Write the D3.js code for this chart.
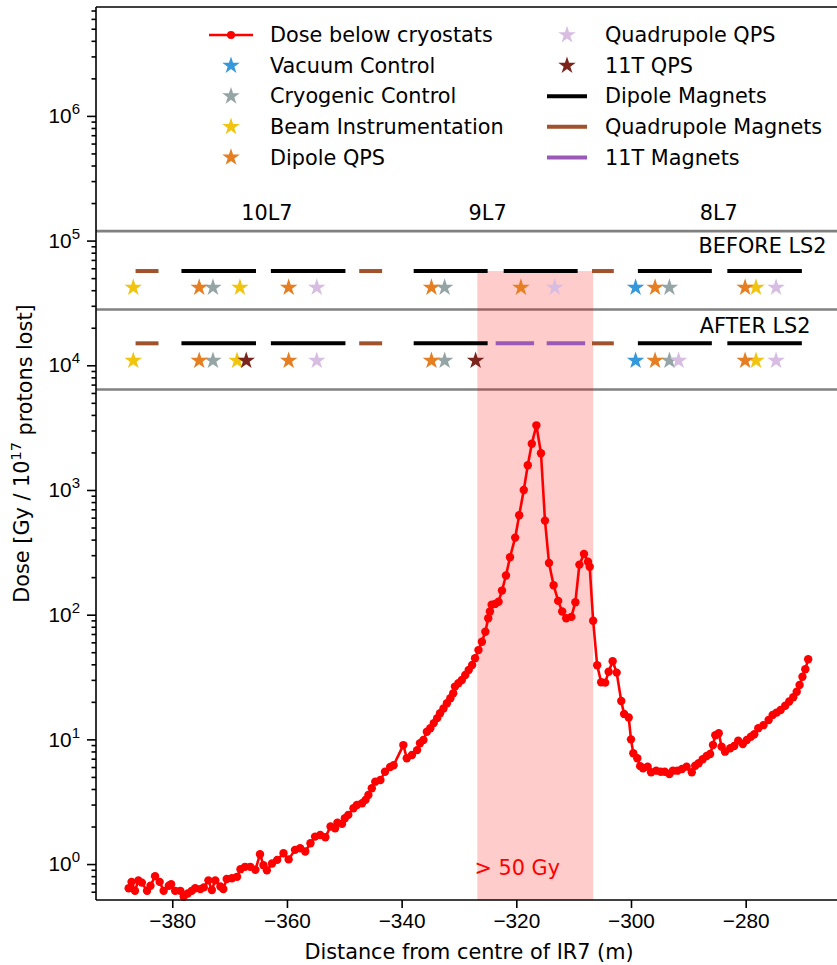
<!DOCTYPE html>
<html>
<head>
<meta charset="utf-8">
<script src="https://cdn.jsdelivr.net/npm/d3@7"></script>
<style>
  body { margin: 0; background: #fff; }
  svg { font-family: "DejaVu Sans", sans-serif; }
  .axis path, .axis line { stroke: #000; stroke-width: 1.6; }
  .axis text { font-size: 20.8px; fill: #000; }
</style>
</head>
<body>
<svg id="chart" width="837" height="965"></svg>
<script>
// dose measured below the cryostats
const doseX = [
  -387.6,-387.1,-386.5,-385.9,-385.3,-384.4,-383.8,-383.0,-382.2,-381.5,-380.6,-380.2,-379.5,-378.6,-378.0,-377.3,-376.6,-376.0,-375.1,-374.5,-373.7,-373.1,-372.5,-371.6,-371.1,-370.5,-369.6,-368.7,-368.1,-367.3,-366.4,-365.5,-364.7,-364.1,-363.5,-362.6,-361.7,-360.6,-359.7,-358.6,-357.7,-356.8,
  -355.9,-355.1,-354.2,-353.3,-352.4,-351.6,-351.2,-350.4,-349.9,-349.3,-348.4,-347.8,-346.9,-346.3,-345.8,-345.2,-344.6,-343.7,
  -342.9,-342.0,-341.4,-339.7,-339.1,-338.2,-337.3,-336.8,-336.2,-335.6,-335.0,-334.4,-333.8,-333.3,-332.7,-332.1,-331.5,-331.0,-330.7,-330.1,-329.5,-328.9,-328.3,-327.7,-327.2,-326.6,-326.0,-325.4,-324.9,-324.6,
  -324.3,-323.7,-323.1,-322.5,-321.8,-321.1,-320.2,-319.5,-318.7,-318.0,-317.3,-316.5,-315.7,-315.0,-314.3,-313.5,-312.7,-312.0,-311.3,-310.4,-309.7,-309.0,-308.2,-307.5,-307.2,-306.6,-305.9,-305.2,-304.5,-303.9,-303.2,-302.5,-301.7,
  -301.2,-300.4,-300.0,-299.6,-298.9,-298.4,-297.9,-297.1,-296.5,-295.6,-294.8,-294.1,-293.3,-292.7,-291.9,-291.1,-290.3,-289.4,-288.8,-288.2,-287.5,-286.8,-286.2,-285.7,-285.3,-284.7,-284.2,-283.6,-282.7,-282.0,-281.3,-280.5,-279.8,-279.1,-278.5,-277.8,-276.9,-276.0,-275.3,-274.6,-273.9,-273.1,-272.4,-271.7,-271.1,-270.6,-270.1,-269.6,-269.1
];
const doseY = [
  0.64,0.72,0.61,0.74,0.71,0.61,0.67,0.80,0.72,0.61,0.67,0.69,0.61,0.61,0.55,0.58,0.61,0.64,0.63,0.65,0.74,0.62,0.74,0.66,0.63,0.76,0.77,0.79,0.91,0.95,0.95,0.90,1.2,0.98,0.89,1.01,1.08,1.22,1.09,1.30,1.34,1.26,
  1.47,1.66,1.71,1.64,2.0,1.94,2.15,2.1,2.33,2.48,2.8,2.98,3.07,3.27,3.58,4.05,4.58,4.72,
  5.5,6.0,6.2,9.0,7.05,7.5,8.2,9.3,9.9,11.5,12.3,13.5,14.8,16.2,17.7,19.5,21.4,23.4,26.5,28.2,29.9,32.8,36,39.5,44.7,52,60.7,73,93.5,106,
  120,122,127,156,206,289,415,627,1000,1580,2350,3300,1970,568,260,172,129,106,93.5,96,126,252,307,266,242,89.5,39.3,28.7,28.5,34.9,42.3,34.3,20.3,
  16.0,15.0,10.0,7.74,7.05,6.1,5.86,6.04,5.45,5.61,5.5,5.5,5.28,5.61,5.61,5.79,6.04,5.45,6.15,6.43,6.92,7.36,7.64,9.02,10.8,11.2,8.74,7.97,8.48,8.85,9.77,9.19,9.89,10.5,11.0,12.3,13.0,14.3,15.7,16.4,17.2,18.6,20.1,21.8,24.1,27.3,31.8,36.5,43.9
];

// magnet layout [type, start, end]
const magnetsBefore = [
  ["quad",-386.4,-382.4],["dipole",-378.4,-365.4],["dipole",-362.8,-349.8],["quad",-347.4,-343.4],
  ["dipole",-337.9,-325.0],["dipole",-322.2,-309.3],["quad",-306.8,-303.0],["dipole",-298.8,-285.9],["dipole",-283.2,-270.2]
];
const magnetsAfter = [
  ["quad",-386.4,-382.4],["dipole",-378.4,-365.4],["dipole",-362.8,-349.8],["quad",-347.4,-343.4],
  ["dipole",-337.9,-325.0],["t11",-323.6,-316.9],["t11",-314.7,-308.0],["quad",-306.8,-303.0],["dipole",-298.8,-285.9],["dipole",-283.2,-270.2]
];

// electronics racks [type, position]
const racksBefore = [
  ["beam",-386.8],["dqps",-375.3],["cryo",-372.9],["beam",-368.2],["dqps",-359.7],["qqps",-354.8],
  ["dqps",-334.8],["cryo",-332.5],["dqps",-319.2],["qqps",-313.3],["vac",-299.2],["dqps",-295.8],
  ["cryo",-293.3],["dqps",-280.1],["beam",-278.2],["qqps",-274.7]
];
const racksAfter = [
  ["beam",-386.8],["dqps",-375.3],["cryo",-372.9],["beam",-368.7],["q11",-367.1],["dqps",-359.7],["qqps",-354.8],
  ["dqps",-334.8],["cryo",-332.5],["q11",-327.1],["vac",-299.2],["dqps",-295.8],["cryo",-293.3],["qqps",-291.7],
  ["dqps",-280.1],["beam",-278.2],["qqps",-274.7]
];

const cellLabels = ["10L7","9L7","8L7"];
const cellPos = [-363.5,-325.0,-284.7];
const separators = [1.19e5, 2.8e4, 6.4e3];
const rowLevels = {beforeLine: 5.7e4, beforeStar: 4.2e4, afterLine: 1.5e4, afterStar: 1.09e4};
const band = [-326.8, -306.6];
const xTicks = [-380,-360,-340,-320,-300,-280];
const yTicks = [1,10,100,1e3,1e4,1e5,1e6];

const rackTypes = ["vac","cryo","beam","dqps","qqps","q11"];
const rackNames = {vac:"Vacuum Control",cryo:"Cryogenic Control",beam:"Beam Instrumentation",dqps:"Dipole QPS",qqps:"Quadrupole QPS",q11:"11T QPS"};
const rackColors = {vac:"#3498db",cryo:"#95a5a6",beam:"#f1c40f",dqps:"#e67e22",qqps:"#d7bde2",q11:"#7b241c"};
const magnetNames = {dipole:"Dipole Magnets",quad:"Quadrupole Magnets",t11:"11T Magnets"};
const magnetColors = {dipole:"#000000",quad:"#a0522d",t11:"#9b59b6"};

const svg = d3.select("#chart");
const pLeft = 96, pRight = 838, pTop = 7, pBottom = 900;

const x = d3.scaleLinear().domain([-393.3, -263.9]).range([pLeft, pRight]);
const y = d3.scaleLog().domain([0.515, 7.47e6]).range([pBottom, pTop]);

// separators
svg.append("g").selectAll("line").data(separators).join("line")
  .attr("x1", pLeft).attr("x2", 837)
  .attr("y1", d => y(d)).attr("y2", d => y(d))
  .attr("stroke", "#808080").attr("stroke-width", 2.6);

// > 50 Gy band
svg.append("rect")
  .attr("x", x(band[0])).attr("width", x(band[1]) - x(band[0]))
  .attr("y", y(rowLevels.beforeLine)).attr("height", pBottom - y(rowLevels.beforeLine))
  .attr("fill", "#ff0000").attr("fill-opacity", 0.2);

svg.append("text")
  .attr("x", x(-327.3)).attr("y", y(0.93))
  .attr("dy", "0.35em").attr("text-anchor", "start")
  .attr("font-size", 20.8).attr("fill", "#ff0000").text("> 50 Gy");

// magnets
function AddMagnets(list, level) {
  svg.append("g").selectAll("line").data(list).join("line")
    .attr("x1", d => x(d[1])).attr("x2", d => x(d[2]))
    .attr("y1", y(level)).attr("y2", y(level))
    .attr("stroke", d => magnetColors[d[0]]).attr("stroke-width", 4);
}
AddMagnets(magnetsBefore, rowLevels.beforeLine);
AddMagnets(magnetsAfter, rowLevels.afterLine);

// racks
const star = d3.symbol().type(d3.symbolStar).size(95);
function AddRacks(list, level) {
  const sorted = list.slice().sort((a, b) => rackTypes.indexOf(a[0]) - rackTypes.indexOf(b[0]));
  svg.append("g").selectAll("path").data(sorted).join("path")
    .attr("d", star)
    .attr("transform", d => `translate(${x(d[1])},${y(level)})`)
    .attr("fill", d => rackColors[d[0]]);
}
AddRacks(racksBefore, rowLevels.beforeStar);
AddRacks(racksAfter, rowLevels.afterStar);

// text labels
svg.append("g").selectAll("text").data(cellLabels).join("text")
  .attr("x", (d, i) => x(cellPos[i])).attr("y", y(1.67e5))
  .attr("dy", "0.35em").attr("text-anchor", "middle").attr("font-size", 20.8)
  .text(d => d);
svg.append("text").attr("x", x(-265.9)).attr("y", y(9.06e4)).attr("dy", "0.35em")
  .attr("text-anchor", "end").attr("font-size", 20.8).text("BEFORE LS2");
svg.append("text").attr("x", x(-268.7)).attr("y", y(2.07e4)).attr("dy", "0.35em")
  .attr("text-anchor", "end").attr("font-size", 20.8).text("AFTER LS2");

// dose curve
const I = d3.range(doseX.length);
const line = d3.line().x(i => x(doseX[i])).y(i => y(doseY[i]));
svg.append("path").attr("d", line(I))
  .attr("fill", "none").attr("stroke", "#ff0000").attr("stroke-width", 2.6);
svg.append("g").selectAll("circle").data(I).join("circle")
  .attr("cx", i => x(doseX[i])).attr("cy", i => y(doseY[i])).attr("r", 4.2)
  .attr("fill", "#ff0000");

// axes
const xAxis = svg.append("g").attr("class", "axis")
  .attr("transform", `translate(0,${pBottom})`)
  .call(d3.axisBottom(x).tickValues(xTicks).tickSize(8).tickPadding(5)
    .tickFormat(d => d3.format("d")(d).replace("-", "\u2212")));
xAxis.select(".domain").attr("d", `M${pLeft},0H${pRight + 10}`);

const minor = [];
for (let e = -1; e <= 6; e++) for (let m = 2; m <= 9; m++) {
  const v = m * Math.pow(10, e);
  if (v > y.domain()[0] && v < y.domain()[1]) minor.push(v);
}
svg.append("g").attr("class", "axis").attr("transform", `translate(${pLeft},0)`)
  .call(d3.axisLeft(y).tickValues(minor).tickSize(4.5).tickFormat(""))
  .select(".domain").remove();
const yAxis = svg.append("g").attr("class", "axis")
  .attr("transform", `translate(${pLeft},0)`)
  .call(d3.axisLeft(y).tickValues(yTicks).tickSize(9).tickPadding(7).tickFormat(""));
yAxis.select(".domain").attr("d", `M0,${pBottom}V${pTop}`);
yAxis.selectAll(".tick text").each(function(d) {
  const t = d3.select(this);
  t.append("tspan").text("10");
  t.append("tspan").attr("dy", "-0.6em").attr("font-size", 15).text(Math.round(Math.log10(d)));
});
// top spine
svg.append("line").attr("x1", pLeft).attr("x2", 837).attr("y1", pTop).attr("y2", pTop)
  .attr("stroke", "#000").attr("stroke-width", 1.6);

// axis titles
svg.append("text").attr("x", (pLeft + pRight) / 2 + 2).attr("y", 959)
  .attr("text-anchor", "middle").attr("font-size", 20.8)
  .text("Distance from centre of IR7 (m)");
const yl = svg.append("text").attr("transform", `translate(29,${(pTop + pBottom) / 2}) rotate(-90)`)
  .attr("text-anchor", "middle").attr("font-size", 20.8);
yl.append("tspan").text("Dose [Gy / 10");
yl.append("tspan").attr("dy", "-0.55em").attr("font-size", 14.5).text("17");
yl.append("tspan").attr("dy", "0.55em").text(" protons lost]");

// legend
const rowY = [35, 65.6, 96.2, 126.8, 157.4];
const leg = svg.append("g").attr("font-size", 20.8);
const col1 = [["dose"], ["vac"], ["cryo"], ["beam"], ["dqps"]];
const col2 = [["qqps"], ["q11"], ["dipole"], ["quad"], ["t11"]];
function AddLegendItem(key, cx, row, tx) {
  const yy = rowY[row];
  if (key === "dose") {
    leg.append("line").attr("x1", cx - 22).attr("x2", cx + 22).attr("y1", yy).attr("y2", yy)
      .attr("stroke", "#ff0000").attr("stroke-width", 2.6);
    leg.append("circle").attr("cx", cx).attr("cy", yy).attr("r", 4).attr("fill", "#ff0000");
  } else if (rackColors[key]) {
    leg.append("path").attr("d", star).attr("transform", `translate(${cx},${yy})`)
      .attr("fill", rackColors[key]);
  } else {
    leg.append("line").attr("x1", cx - 20).attr("x2", cx + 20).attr("y1", yy).attr("y2", yy)
      .attr("stroke", magnetColors[key]).attr("stroke-width", 4);
  }
  const name = key === "dose" ? "Dose below cryostats" : (rackNames[key] || magnetNames[key]);
  leg.append("text").attr("x", tx).attr("y", yy).attr("dy", "0.35em").text(name);
}
col1.forEach((d, i) => AddLegendItem(d[0], 231, i, 270));
col2.forEach((d, i) => AddLegendItem(d[0], 567, i, 605));
</script>
</body>
</html>
